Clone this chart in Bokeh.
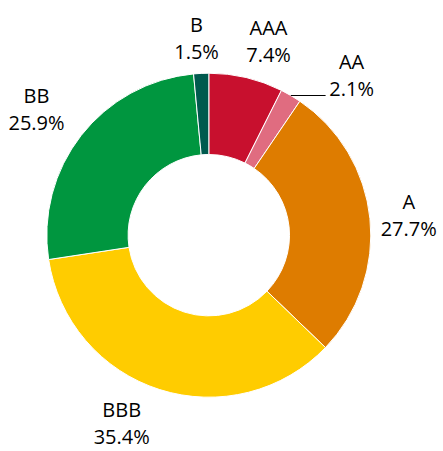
import math
from bokeh.plotting import figure
from bokeh.models import ColumnDataSource, Range1d
from bokeh.core.properties import value
from bokeh.embed import file_html
from bokeh.resources import INLINE

# ---- data ----
ratings = ["AAA", "AA", "A", "BBB", "BB", "B"]
shares = [7.4, 2.1, 27.7, 35.4, 25.9, 1.5]
colors = ["#C8102E", "#E06C80", "#DE7C00", "#FFCC00", "#00963F", "#005A4E"]

# ---- layout ----
W, H = 443, 451
CX, CY = 208.3, H - 234.7          # centre of donut (data units = px, y up)
R_OUT, R_IN = 162.0, 80.7
R_LAB = 205.0
# per-label nudges in screen px (dx right, dy down)
nudge_x = [12.5, 39.0, -4.0, -25.0, -10.7, -2.6]
nudge_y = [5.3, 16.6, 1.0, -7.5, 0.0, 7.1]

total = sum(shares)
starts, ends, mids = [], [], []
cum = 0.0
for s in shares:
    f0 = cum / total
    cum += s
    f1 = cum / total
    starts.append(math.pi / 2 - 2 * math.pi * f0)
    ends.append(math.pi / 2 - 2 * math.pi * f1)
    mids.append(math.pi / 2 - 2 * math.pi * (f0 + f1) / 2)

lx = [CX + R_LAB * math.cos(a) + nx for a, nx in zip(mids, nudge_x)]
ly = [CY + R_LAB * math.sin(a) - ny for a, ny in zip(mids, nudge_y)]
pct = [f"{s:.1f}%" for s in shares]

src = ColumnDataSource(dict(
    start=starts, end=ends, color=colors, name=ratings, pct=pct, lx=lx, ly=ly,
))

p = figure(width=W, height=H, x_range=Range1d(0, W), y_range=Range1d(0, H),
           output_backend="svg", toolbar_location=None, min_border=0,
           x_axis_type=None, y_axis_type=None)
p.grid.visible = False
p.outline_line_color = None
p.background_fill_color = "white"
p.border_fill_color = "white"

p.annular_wedge(x=CX, y=CY, inner_radius=R_IN, outer_radius=R_OUT,
                start_angle="start", end_angle="end", direction="clock",
                fill_color="color", line_color="white", line_width=1, source=src)

# leader line for AA
i = ratings.index("AA")
ex = CX + R_OUT * math.cos(mids[i])
ey = CY + R_OUT * math.sin(mids[i])
p.line(x=[ex, lx[i] - 26], y=[ey, ey], line_color="black", line_width=1)

p.text(x="lx", y="ly", text="name", source=src, y_offset=-13.5,
       text_align="center", text_baseline="middle",
       text_font=value("Open Sans"), text_font_size="20px", text_color="#000000")
p.text(x="lx", y="ly", text="pct", source=src, y_offset=13.5,
       text_align="center", text_baseline="middle",
       text_font=value("Open Sans"), text_font_size="20px", text_color="#000000")

open("out.html", "w").write(file_html(p, INLINE))
